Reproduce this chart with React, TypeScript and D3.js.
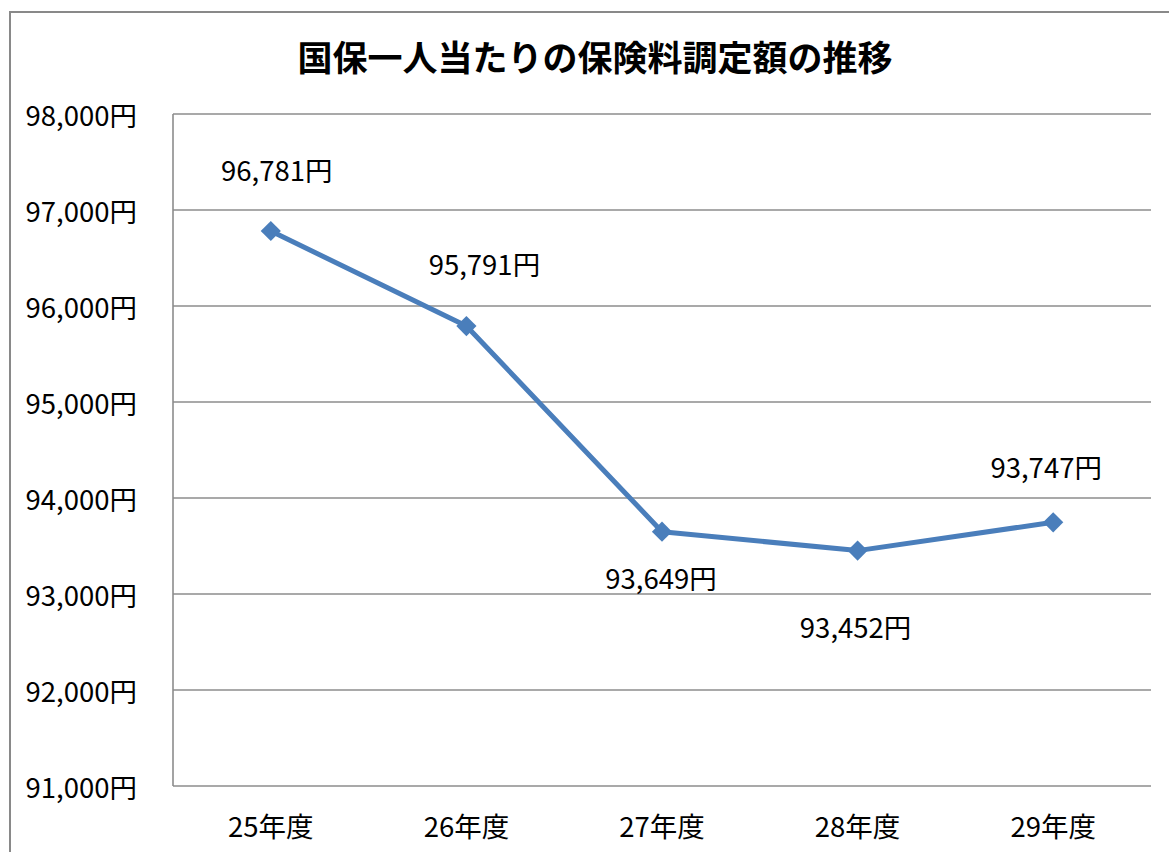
import { useMemo } from "react";
import * as d3 from "d3";

// ── Data ────────────────────────────────────────────────────────────────
const CATEGORIES = ["25年度", "26年度", "27年度", "28年度", "29年度"];
const PREMIUMS = [96781, 95791, 93649, 93452, 93747];
const Y_TICKS = [91000, 92000, 93000, 94000, 95000, 96000, 97000, 98000];
const TITLE = "国保一人当たりの保険料調定額の推移";

// Label nudges (px) relative to each marker, as placed in the original sheet
const LABEL_DX = [6, 18, -1, -2, -7];
const LABEL_DY = [-62, -63, 45, 75, -56];

const W = 1169;
const H = 852;
const PLOT = { left: 173, right: 1151, top: 114, bottom: 786 };

const LINE_COLOR = "#4a7ebb";
const GRID_COLOR = "#8c8c8c";
const FONT = "'Noto Sans CJK JP', 'Noto Sans', sans-serif";
const LABEL_SIZE = 27.5;

const fmt = d3.format(",");

export default function App() {
  const x = useMemo(
    () => d3.scaleBand<string>().domain(CATEGORIES).range([PLOT.left, PLOT.right]),
    [],
  );
  const y = useMemo(
    () => d3.scaleLinear().domain([91000, 98000]).range([PLOT.bottom, PLOT.top]),
    [],
  );

  const pts = PREMIUMS.map((v, i) => ({
    cat: CATEGORIES[i],
    v,
    px: (x(CATEGORIES[i]) ?? 0) + x.bandwidth() / 2,
    py: y(v),
  }));

  const linePath = d3
    .line<(typeof pts)[number]>()
    .x((d) => d.px)
    .y((d) => d.py)(pts) ?? "";

  const diamond = d3.symbol().type(d3.symbolDiamond2).size(260)() ?? "";

  return (
    <svg
      width={W}
      height={H}
      style={{ position: "absolute", left: 0, top: 0, background: "#fff" }}
      fontFamily={FONT}
    >
      {/* outer chart frame, runs off the right/bottom edge */}
      <rect x={10} y={12} width={W + 40} height={H + 40} fill="#fff" stroke="#898989" strokeWidth={2} />

      {/* title */}
      <text
        x={595}
        y={55}
        textAnchor="middle"
        dominantBaseline="central"
        fontSize={35}
        fontWeight={700}
        fill="#000"
      >
        {TITLE}
      </text>

      {/* gridlines */}
      {Y_TICKS.map((t) => (
        <line
          key={t}
          x1={PLOT.left}
          x2={PLOT.right}
          y1={y(t)}
          y2={y(t)}
          stroke={GRID_COLOR}
          strokeWidth={1.6}
        />
      ))}
      <line x1={PLOT.left} x2={PLOT.left} y1={PLOT.top} y2={PLOT.bottom} stroke={GRID_COLOR} strokeWidth={1.6} />

      {/* y tick labels */}
      {Y_TICKS.map((t) => (
        <text
          key={t}
          x={137}
          y={y(t)}
          textAnchor="end"
          dominantBaseline="central"
          fontSize={LABEL_SIZE}
          fill="#000"
        >
          {fmt(t)}円
        </text>
      ))}

      {/* x category labels */}
      {CATEGORIES.map((c) => (
        <text
          key={c}
          x={(x(c) ?? 0) + x.bandwidth() / 2}
          y={825}
          textAnchor="middle"
          dominantBaseline="central"
          fontSize={LABEL_SIZE}
          fill="#000"
        >
          {c}
        </text>
      ))}

      {/* series */}
      <path d={linePath} fill="none" stroke={LINE_COLOR} strokeWidth={5} strokeLinejoin="round" />
      {pts.map((p) => (
        <path key={p.cat} d={diamond} transform={`translate(${p.px},${p.py})`} fill={LINE_COLOR} />
      ))}

      {/* data labels */}
      {pts.map((p, i) => (
        <text
          key={p.cat}
          x={p.px + LABEL_DX[i]}
          y={p.py + LABEL_DY[i]}
          textAnchor="middle"
          dominantBaseline="central"
          fontSize={LABEL_SIZE}
          fill="#000"
        >
          {fmt(p.v)}円
        </text>
      ))}
    </svg>
  );
}
